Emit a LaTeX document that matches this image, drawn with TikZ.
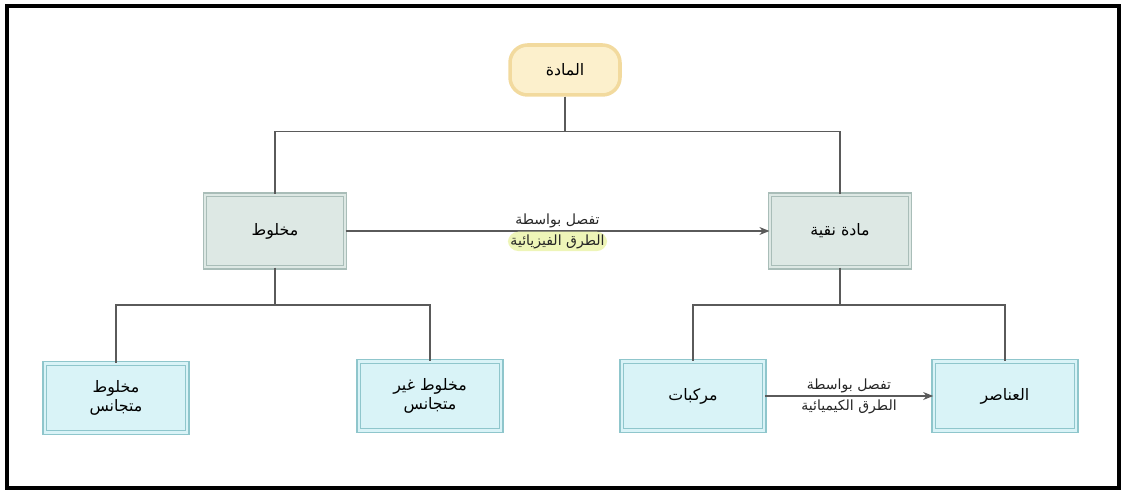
\documentclass[tikz,border=0pt]{standalone}
\usepackage{fontspec}
\newfontfamily\arabicfont[Script=Arabic]{DejaVu Sans}
\TeXXeTstate=1
\usepackage{xcolor}
\usetikzlibrary{arrows.meta, positioning}

\definecolor{topfill}{HTML}{FCF0CC}
\definecolor{topline}{HTML}{F2DA9E}
\definecolor{midfill}{HTML}{DDE8E4}
\definecolor{midline}{HTML}{A9BDB8}
\definecolor{lowfill}{HTML}{D9F3F7}
\definecolor{lowline}{HTML}{8FC6CC}
\definecolor{linkgray}{HTML}{5A5A5A}
\definecolor{glow}{HTML}{EEF5B8}

\newcommand{\artext}[1]{\beginR #1\endR}

\begin{document}
\begin{tikzpicture}[
        x=0.02cm, y=-0.02cm,
        font=\small\arabicfont,
        every node/.style={align=center},
        topbox/.style={
            rectangle, rounded corners=10pt,
            draw=topline, line width=2pt,
            fill=topfill,
            minimum width=2.2cm, minimum height=1cm
        },
        midbox/.style={
            rectangle,
            draw=midline, line width=0.7pt,
            double=midfill, double distance=1.2pt,
            fill=midfill,
            minimum width=2.8cm, minimum height=1.45cm
        },
        lowbox/.style={
            rectangle,
            draw=lowline, line width=0.7pt,
            double=lowfill, double distance=1.2pt,
            fill=lowfill,
            minimum width=2.85cm, minimum height=1.38cm
        },
        link/.style={line width=0.8pt, linkgray},
        arr/.style={-{Stealth[length=2mm,width=1.6mm]}, line width=0.8pt, linkgray},
        lbl/.style={font=\footnotesize\arabicfont, text=black!85, inner sep=1.5pt}
    ]
    \useasboundingbox (0,0) rectangle (1125,496);
    \draw[line width=2.5pt] (7,6) rectangle (1119,488);

    \node[topbox] (matter) at (565,70) {\artext{المادة}};
    \node[midbox] (mix) at (275,231) {\artext{مخلوط}};
    \node[midbox] (pure) at (840,231) {\artext{مادة نقية}};
    \node[lowbox] (hom) at (116,398) {\artext{مخلوط}\\\artext{متجانس}};
    \node[lowbox] (het) at (430,396) {\artext{مخلوط غير}\\\artext{متجانس}};
    \node[lowbox] (comp) at (693,396) {\artext{مركبات}};
    \node[lowbox] (elem) at (1005,396) {\artext{العناصر}};

    \draw[link] (matter.south) -- ++(0,35) -| (mix.north);
    \draw[link] (matter.south) -- ++(0,35) -| (pure.north);
    \draw[link] (mix.south) -- ++(0,37) -| (hom.north);
    \draw[link] (mix.south) -- ++(0,37) -| (het.north);
    \draw[link] (pure.south) -- ++(0,37) -| (comp.north);
    \draw[link] (pure.south) -- ++(0,37) -| (elem.north);

    \draw[arr] (mix) -- node[lbl, above] {\artext{تفصل بواسطة}}
        node[lbl, below, fill=glow, rounded corners=6pt] {\artext{الطرق الفيزيائية}} (pure);
    \draw[arr] (comp) -- node[lbl, above] {\artext{تفصل بواسطة}}
        node[lbl, below] {\artext{الطرق الكيميائية}} (elem);
\end{tikzpicture}
\end{document}
